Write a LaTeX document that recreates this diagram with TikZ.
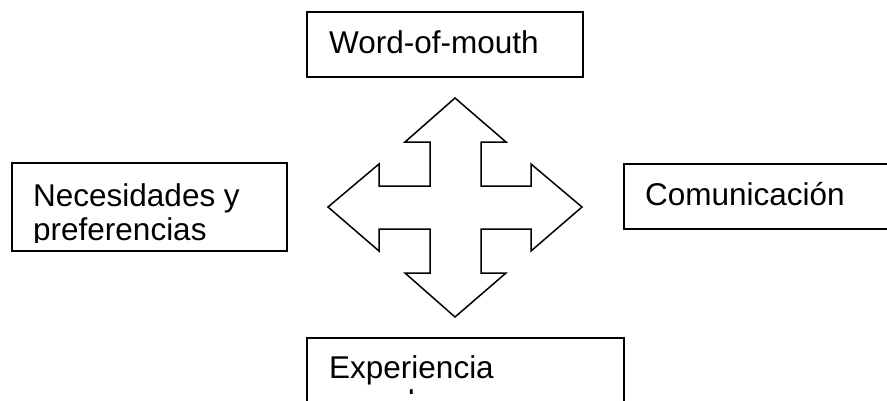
\documentclass[tikz,border=0pt]{standalone}
\usepackage{fontspec}
\setmainfont{Liberation Sans}

\tikzset{
    caja/.style={draw, line width=1.5pt, rectangle, inner sep=0pt},
    texto/.style={anchor=base west, inner sep=0pt, font=\fontsize{31.5}{34}\selectfont},
}

\begin{document}
\begin{tikzpicture}[x=1pt,y=-1pt]
    \useasboundingbox (0,0) rectangle (887,400);
    \clip (0,0) rectangle (887,400);

    \node[caja, minimum width=276pt, minimum height=65pt] (wom) at (445,44.5) {};
    \node[caja, minimum width=275pt, minimum height=88pt] (nec) at (149.5,207) {};
    \node[caja, minimum width=280pt, minimum height=65pt] (com) at (764,196.5) {};
    \node[caja, minimum width=317pt, minimum height=82pt] (exp) at (465.5,379) {};

    \node[texto] (twom) at (329,53) {Word-of-mouth};
    \node[texto] (tcom) at (645,205) {Comunicación};
    \begin{scope}
        \clip (12,163) rectangle (287,242);
        \node[texto] (tnec1) at (33,206) {Necesidades y};
        \node[texto] (tnec2) at (33,240) {preferencias};
    \end{scope}
    \begin{scope}
        \clip (307,338) rectangle (624,393);
        \node[texto] (texp1) at (329,378) {Experiencia};
        \node[texto] (texp2) at (329,412) {pasada};
    \end{scope}

    % flecha de cuatro puntas
    \draw[line width=1.5pt, line join=miter]
        (455,98) -- (506,142) -- (481,142) -- (481,186) -- (531,186) -- (531,164)
        -- (582,207) -- (531,251) -- (531,229) -- (481,229) -- (481,273) -- (506,273)
        -- (455,317) -- (405,273) -- (430,273) -- (430,229) -- (379,229) -- (379,251)
        -- (328,207) -- (379,164) -- (379,186) -- (430,186) -- (430,142) -- (405,142)
        -- cycle;
\end{tikzpicture}
\end{document}
